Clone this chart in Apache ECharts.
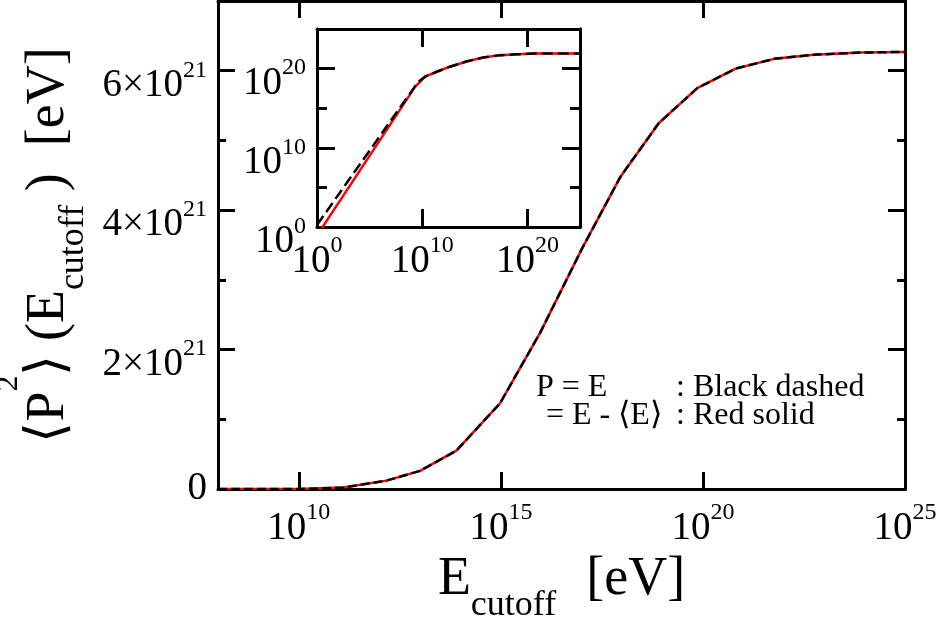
<!DOCTYPE html>
<html>
<head>
<meta charset="utf-8">
<script src="https://cdn.jsdelivr.net/npm/echarts@6/dist/echarts.min.js"></script>
<style>
  html, body { margin: 0; padding: 0; background: #fff; }
  #chart { width: 947px; height: 623px; }
</style>
</head>
<body>
<div id="chart"></div>
<script>
// main panel: x = log10(E_cutoff / eV), y = <P^2> in units of 1e21 eV
const cutoffExp = [8, 10, 11.1, 12.17, 13.0, 13.9, 14.98, 15.97, 17.0, 17.96, 18.91, 19.86, 20.81, 21.76, 22.75, 23.9, 25];
const p2Main = [0, 0, 0.02, 0.12, 0.26, 0.55, 1.23, 2.24, 3.44, 4.48, 5.25, 5.75, 6.03, 6.17, 6.23, 6.26, 6.27];

// inset: log10 of both axes
const insetBlackX = [0, 9.63, 10.27, 11.38, 12.64, 14.2, 15.8, 17.4, 19.0, 20.6, 25];
const insetBlackY = [0.25, 18.35, 18.98, 19.6, 20.24, 20.9, 21.4, 21.7, 21.8, 21.9, 21.9];
const insetRedX = [0, 9.32, 9.95, 10.27, 11.38, 12.64, 14.2, 15.8, 17.4, 19.0, 20.6, 25];
const insetRedY = [-1.07, 17.7, 18.56, 18.98, 19.6, 20.24, 20.9, 21.4, 21.7, 21.8, 21.9, 21.9];

const mainXTicks = [10, 15, 20, 25];
const mainYTicks = [0, 2, 4, 6];
const mainYMinor = [1, 3, 5];
const insetXTicks = [0, 10, 20];
const insetYTicks = [0, 10, 20];
const insetYMinor = [5, 15];

const FONT = "Liberation Serif";

const zip = (xs, ys) => xs.map((x, i) => [x, ys[i]]);

// superscript: small token at the top, base token pushed down with padding
const richX = {
  b: { fontFamily: FONT, fontSize: 39, lineHeight: 39, verticalAlign: "top", padding: [8, 0, 0, 0], color: "#000" },
  s: { fontFamily: FONT, fontSize: 24, lineHeight: 24, verticalAlign: "top", color: "#000" }
};
const richY = {
  b: { fontFamily: FONT, fontSize: 39, lineHeight: 39, verticalAlign: "top", padding: [15, 0, 0, 0], color: "#000" },
  s: { fontFamily: FONT, fontSize: 24, lineHeight: 24, verticalAlign: "top", padding: [7, 0, 0, 0], color: "#000" },
  z: { fontFamily: FONT, fontSize: 39, lineHeight: 39, color: "#000" }
};

const frame = { show: true, onZero: false, lineStyle: { color: "#000", width: 3 } };

function tickAxis(gridIndex, position, min, max, ticks, len, label) {
  return {
    type: "value",
    gridIndex: gridIndex,
    position: position,
    min: min,
    max: max,
    axisLine: frame,
    splitLine: { show: false },
    axisTick: {
      show: true, inside: true, length: len, customValues: ticks,
      lineStyle: { color: "#000", width: 3 }
    },
    axisLabel: label || { show: false }
  };
}

const chart = echarts.init(document.getElementById("chart"));

const option = {
  animation: false,
  backgroundColor: "#fff",
  grid: [
    { left: 218, top: 1, width: 687, height: 488, containLabel: false, outerBoundsMode: "none" },
    { left: 317, top: 29, width: 263, height: 198, containLabel: false, outerBoundsMode: "none" }
  ],
  xAxis: [
    Object.assign(tickAxis(0, "bottom", 8, 25, mainXTicks, 17, {
      show: true, customValues: mainXTicks, margin: 12,
      formatter: (v) => "{b|10}{s|" + v + "}", rich: richX
    }), {
      name: "{e|E}{sub|cutoff}{u|[eV]}",
      nameLocation: "middle",
      nameGap: 57,
      nameTextStyle: {
        rich: {
          e: { fontFamily: FONT, fontSize: 54, lineHeight: 54, verticalAlign: "top", color: "#000" },
          sub: { fontFamily: FONT, fontSize: 36, lineHeight: 36, verticalAlign: "top", padding: [35, 0, 0, 0], color: "#000" },
          u: { fontFamily: FONT, fontSize: 54, lineHeight: 54, verticalAlign: "top", padding: [0, 0, 0, 30], color: "#000" }
        }
      }
    }),
    tickAxis(0, "top", 8, 25, mainXTicks, 17),
    tickAxis(1, "bottom", 0, 25, insetXTicks, 18, {
      show: true, customValues: insetXTicks, margin: 7,
      formatter: (v) => "{b|10}{s|" + v + "}", rich: richX
    }),
    tickAxis(1, "top", 0, 25, insetXTicks, 18)
  ],
  yAxis: [
    Object.assign(tickAxis(0, "left", 0, 7, mainYTicks, 17, {
      show: true, customValues: mainYTicks, margin: 11,
      formatter: (v) => (v === 0 ? "{z|0}" : "{b|" + v + "×10}{s|21}"),
      rich: richY
    }), {
      name: "{t|⟨P}{sup|2}{t|⟩ (E}{sub|cutoff}{t| )  [eV]}",
      nameLocation: "middle",
      nameRotate: 90,
      nameGap: 114,
      nameTextStyle: {
        rich: {
          t: { fontFamily: FONT, fontSize: 54, lineHeight: 54, verticalAlign: "top", padding: [29.6, 0, 0, 0], color: "#000" },
          sup: { fontFamily: FONT, fontSize: 32, lineHeight: 32, verticalAlign: "top", color: "#000" },
          sub: { fontFamily: FONT, fontSize: 36, lineHeight: 36, verticalAlign: "top", padding: [63, 0, 0, 0], color: "#000" }
        }
      }
    }),
    tickAxis(0, "left", 0, 7, mainYMinor, 8),
    tickAxis(0, "right", 0, 7, mainYTicks, 17),
    tickAxis(0, "right", 0, 7, mainYMinor, 8),
    tickAxis(1, "left", 0, 25, insetYTicks, 18, {
      show: true, customValues: insetYTicks, margin: 11,
      formatter: (v) => "{b|10}{s|" + v + "}", rich: richY
    }),
    tickAxis(1, "left", 0, 25, insetYMinor, 10),
    tickAxis(1, "right", 0, 25, insetYTicks, 18),
    tickAxis(1, "right", 0, 25, insetYMinor, 10)
  ],
  series: [
    {
      type: "line", xAxisIndex: 0, yAxisIndex: 0, z: 2,
      data: zip(cutoffExp, p2Main), symbol: "none",
      lineStyle: { color: "#ff0000", width: 2.5 }
    },
    {
      type: "line", xAxisIndex: 0, yAxisIndex: 0, z: 3,
      data: zip(cutoffExp, p2Main), symbol: "none",
      lineStyle: { color: "#000", width: 2.5, type: [9, 4] }
    },
    {
      type: "line", xAxisIndex: 2, yAxisIndex: 4, z: 2, clip: true,
      data: zip(insetRedX, insetRedY), symbol: "none",
      lineStyle: { color: "#ff0000", width: 2.5 }
    },
    {
      type: "line", xAxisIndex: 2, yAxisIndex: 4, z: 3, clip: true,
      data: zip(insetBlackX, insetBlackY), symbol: "none",
      lineStyle: { color: "#000", width: 2.5, type: [11, 5] }
    }
  ],
  graphic: [
    { type: "text", left: 536, top: 372, style: { text: "P = E", font: '32px "Liberation Serif"', fill: "#000" } },
    { type: "text", left: 676, top: 372, style: { text: ": Black dashed", font: '32px "Liberation Serif"', fill: "#000" } },
    { type: "text", left: 546, top: 400, style: { text: "= E - ⟨E⟩", font: '32px "Liberation Serif"', fill: "#000" } },
    { type: "text", left: 676, top: 400, style: { text: ": Red solid", font: '32px "Liberation Serif"', fill: "#000" } }
  ]
};

chart.setOption(option);
</script>
</body>
</html>
